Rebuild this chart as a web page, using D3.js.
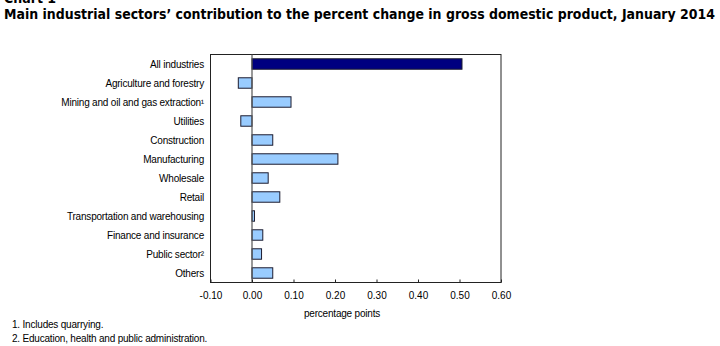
<!DOCTYPE html>
<html>
<head>
<meta charset="utf-8">
<script src="https://cdn.jsdelivr.net/npm/d3@7"></script>
<style>
  body { margin: 0; background: #fff; }
  svg { display: block; }
  text { font-family: "Liberation Sans", Arial, sans-serif; fill: #000; }
</style>
</head>
<body>
<div id="chart"></div>
<script>
// sectors, top to bottom
const sectors = [
  "All industries",
  "Agriculture and forestry",
  "Mining and oil and gas extraction\u00B9",
  "Utilities",
  "Construction",
  "Manufacturing",
  "Wholesale",
  "Retail",
  "Transportation and warehousing",
  "Finance and insurance",
  "Public sector\u00B2",
  "Others"
];
// contribution, percentage points
const contributions = [0.506, -0.033, 0.094, -0.027, 0.050, 0.207, 0.039, 0.067, 0.006, 0.026, 0.023, 0.050];
const tickValues = [-0.10, 0.00, 0.10, 0.20, 0.30, 0.40, 0.50, 0.60];
const footnotes = ["1. Includes quarrying.", "2. Education, health and public administration."];

const W = 720, H = 346;
const plot = { left: 210.5, right: 501, top: 54.5, bottom: 282.5 };

const svg = d3.select("#chart").append("svg")
  .attr("width", W)
  .attr("height", H);

// heading, first line clipped by the top edge
svg.append("text")
  .attr("x", 4).attr("y", 3)
  .style("font-family", "'DejaVu Sans Condensed', 'DejaVu Sans', sans-serif")
  .style("font-weight", "bold").style("font-size", "14px")
  .text("Chart 1");
const title = svg.append("text")
  .attr("x", 4).attr("y", 19)
  .style("font-family", "'DejaVu Sans Condensed', 'DejaVu Sans', sans-serif")
  .style("font-weight", "bold").style("font-size", "14px")
  .text("Main industrial sectors\u2019 contribution to the percent change in gross domestic product, January 2014");
title.attr("textLength", 711).attr("lengthAdjust", "spacingAndGlyphs");

const x = d3.scaleLinear()
  .domain([-0.1, 0.6])
  .range([plot.left, plot.right]);

const y = d3.scaleBand()
  .domain(sectors)
  .range([plot.top, plot.bottom])
  .paddingInner(0.45)
  .paddingOuter(0.225);

// plot frame
svg.append("rect")
  .attr("x", plot.left).attr("y", plot.top)
  .attr("width", plot.right - plot.left)
  .attr("height", plot.bottom - plot.top)
  .attr("fill", "#fff")
  .attr("stroke", "#222")
  .attr("stroke-width", 1);

// bars
svg.selectAll("rect.bar")
  .data(sectors)
  .join("rect")
    .attr("class", "bar")
    .attr("x", (d, i) => x(Math.min(0, contributions[i])))
    .attr("y", d => y(d))
    .attr("width", (d, i) => Math.abs(x(contributions[i]) - x(0)))
    .attr("height", y.bandwidth())
    .attr("fill", (d, i) => i === 0 ? "#000080" : "#99ccff")
    .attr("stroke", "#1c1c30")
    .attr("stroke-width", 1);

// zero line
svg.append("line")
  .attr("x1", x(0)).attr("x2", x(0))
  .attr("y1", plot.top).attr("y2", plot.bottom)
  .attr("stroke", "#555")
  .attr("stroke-width", 1.2);

// x axis: inward ticks, labels below (plain hyphen for negatives)
const fmt = d3.format(".2f");
const xAxis = d3.axisBottom(x)
  .tickValues(tickValues)
  .tickSize(-3)
  .tickPadding(9)
  .tickFormat(d => fmt(d).replace("\u2212", "-"));
const gx = svg.append("g")
  .attr("transform", `translate(0,${plot.bottom})`)
  .call(xAxis);
gx.select(".domain").remove();
gx.selectAll(".tick line").attr("stroke", "#222");
gx.selectAll(".tick text")
  .style("font-family", "'Liberation Sans', Arial, sans-serif")
  .style("font-size", "10px")
  .attr("fill", "#000");

// category labels
svg.append("g").selectAll("text")
  .data(sectors)
  .join("text")
    .attr("x", 204)
    .attr("y", d => y(d) + y.bandwidth() / 2)
    .attr("dy", "0.35em")
    .attr("text-anchor", "end")
    .style("font-size", "10px")
    .style("letter-spacing", "-0.2px")
    .text(d => d);

svg.append("text")
  .attr("x", 342).attr("y", 317)
  .attr("text-anchor", "middle")
  .style("font-size", "10px")
  .style("letter-spacing", "-0.2px")
  .text("percentage points");

svg.append("g").selectAll("text")
  .data(footnotes)
  .join("text")
    .attr("x", 12)
    .attr("y", (d, i) => 328 + i * 14)
    .style("font-size", "10px")
    .style("letter-spacing", "-0.2px")
    .text(d => d);
</script>
</body>
</html>
